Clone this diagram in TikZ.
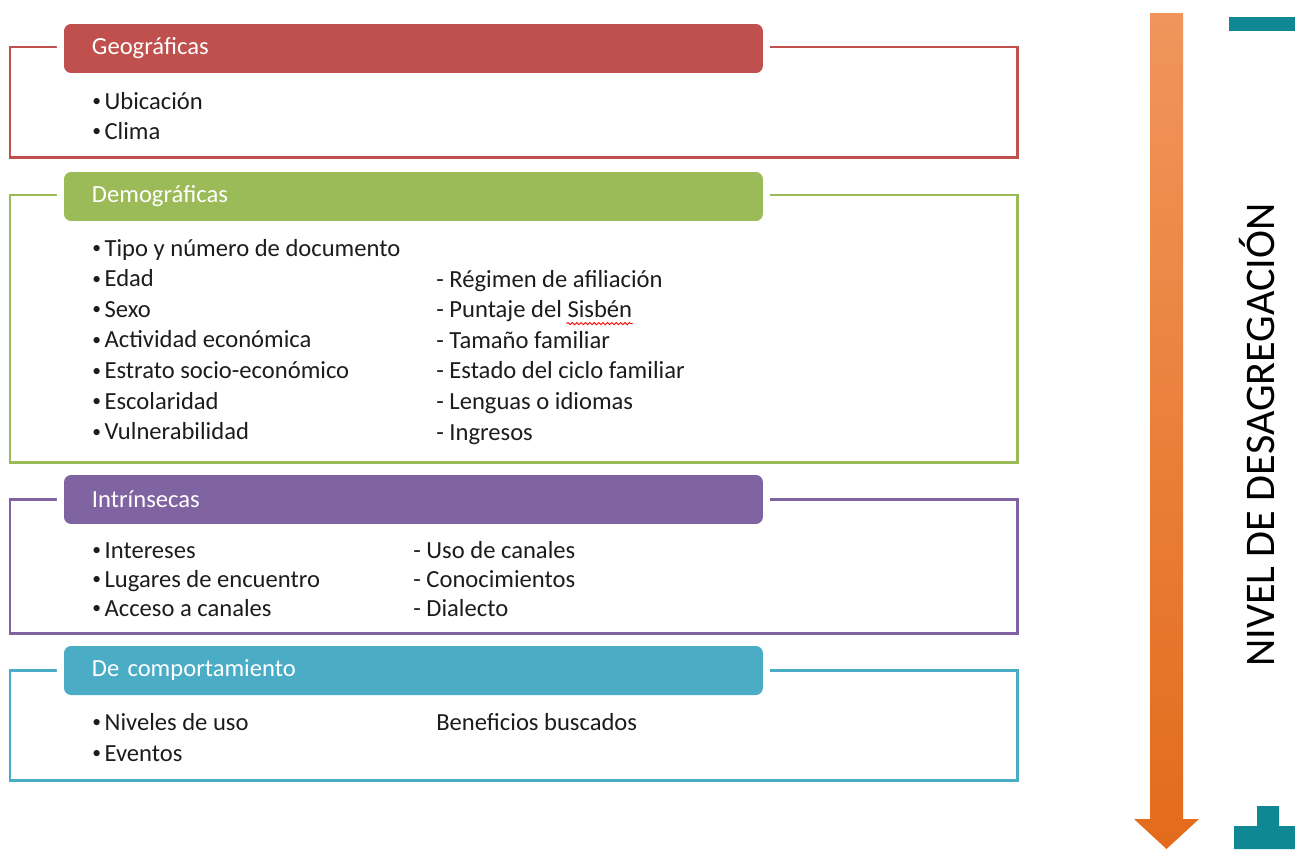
\documentclass[tikz,border=0pt]{standalone}
\usepackage{fontspec}
\setmainfont{Carlito}
\usetikzlibrary{calc,decorations.pathmorphing}
\definecolor{geored}{HTML}{C0504D}
\definecolor{demogreen}{HTML}{9BBB59}
\definecolor{intrpurple}{HTML}{8064A2}
\definecolor{compteal}{HTML}{4BACC6}
\definecolor{arrowtop}{HTML}{F1955C}
\definecolor{arrowmid}{HTML}{F37D2D}
\definecolor{arrowbot}{HTML}{E36B1B}
\definecolor{markteal}{HTML}{0F8893}
\definecolor{itemtext}{HTML}{1C1C1C}
\newcommand{\itembullet}{\raisebox{1.3pt}{\fontsize{10}{10}\selectfont\textbullet}\hspace{2pt}}
\tikzset{
  groupbox/.style={draw=#1, line width=1.7pt, anchor=north west, minimum width=20.16cm,
    inner sep=0, outer sep=0},
  headbar/.style={fill=#1, preaction={draw=white, line width=8pt}, rounded corners=4pt,
    anchor=north west, outer sep=0, minimum width=13.98cm, minimum height=0.98cm,
    text width=12.86cm, inner xsep=0.56cm, align=left, text=white,
    font=\fontsize{14}{16}\selectfont},
  item/.style={anchor=base west, inner sep=0, text=itemtext, font=\fontsize{14}{16}\selectfont}
}
\begin{document}
\begin{tikzpicture}[x=0.02cm, y=-0.02cm]
  \useasboundingbox (0,0) rectangle (1295,849);

  \node (geobox) [groupbox=geored, minimum height=2.22cm] at (10,47) {};
  \node (geohead) [headbar=geored] at (64,24) {Geográficas};
  \foreach \txt [count=\i from 0] in {Ubicación, Clima}
    \node (geoL\i) [item] at (92,109+30*\i) {\itembullet\txt};

  \node (demobox) [groupbox=demogreen, minimum height=5.36cm] at (10,195) {};
  \node (demohead) [headbar=demogreen] at (64,172) {Demográficas};
  \foreach \txt [count=\i from 0] in {Tipo y número de documento, Edad, Sexo,
      Actividad económica, Estrato socio-económico, Escolaridad, Vulnerabilidad}
    \node (demoL\i) [item] at (92,256+30.6*\i) {\itembullet\txt};
  \foreach \txt [count=\i from 0] in {Régimen de afiliación, Puntaje del Sisbén,
      Tamaño familiar, Estado del ciclo familiar, Lenguas o idiomas, Ingresos}
    \node (demoR\i) [item] at (436,287+30.6*\i) {- \txt};
  \draw[red, line width=0.5pt, decorate, decoration={snake, amplitude=0.6pt, segment length=2.5pt}]
    ($(demoR1.base east)+(-66,6)$) -- ($(demoR1.base east)+(0,6)$);

  \node (intrbox) [groupbox=intrpurple, minimum height=2.7cm] at (10,499) {};
  \node (intrhead) [headbar=intrpurple] at (64,475) {Intrínsecas};
  \foreach \txt [count=\i from 0] in {Intereses, Lugares de encuentro, Acceso a canales}
    \node (intrL\i) [item] at (92,558+29*\i) {\itembullet\txt};
  \foreach \txt [count=\i from 0] in {Uso de canales, Conocimientos, Dialecto}
    \node (intrR\i) [item] at (413,558+29*\i) {- \txt};

  \node (compbox) [groupbox=compteal, minimum height=2.22cm] at (10,670) {};
  \node (comphead) [headbar=compteal] at (64,646) {De comportamiento};
  \foreach \txt [count=\i from 0] in {Niveles de uso, Eventos}
    \node (compL\i) [item] at (92,730+31*\i) {\itembullet\txt};
  \node (compR0) [item] at (436,730) {Beneficios buscados};

  \shade[top color=arrowtop, middle color=arrowmid, bottom color=arrowbot]
    (1150,13) -- (1183,13) -- (1183,819) -- (1199,819) -- (1166.5,849)
    -- (1134,819) -- (1150,819) -- cycle;
  \node (level) [rotate=90, text=black, font=\fontsize{24}{28}\selectfont] at (1257,435)
    {NIVEL DE DESAGREGACIÓN};

  \fill[markteal] (1229,17) rectangle (1295,31);
  \fill[markteal] (1234,826) rectangle (1295,849) (1257,806) rectangle (1279,826);
\end{tikzpicture}
\end{document}
